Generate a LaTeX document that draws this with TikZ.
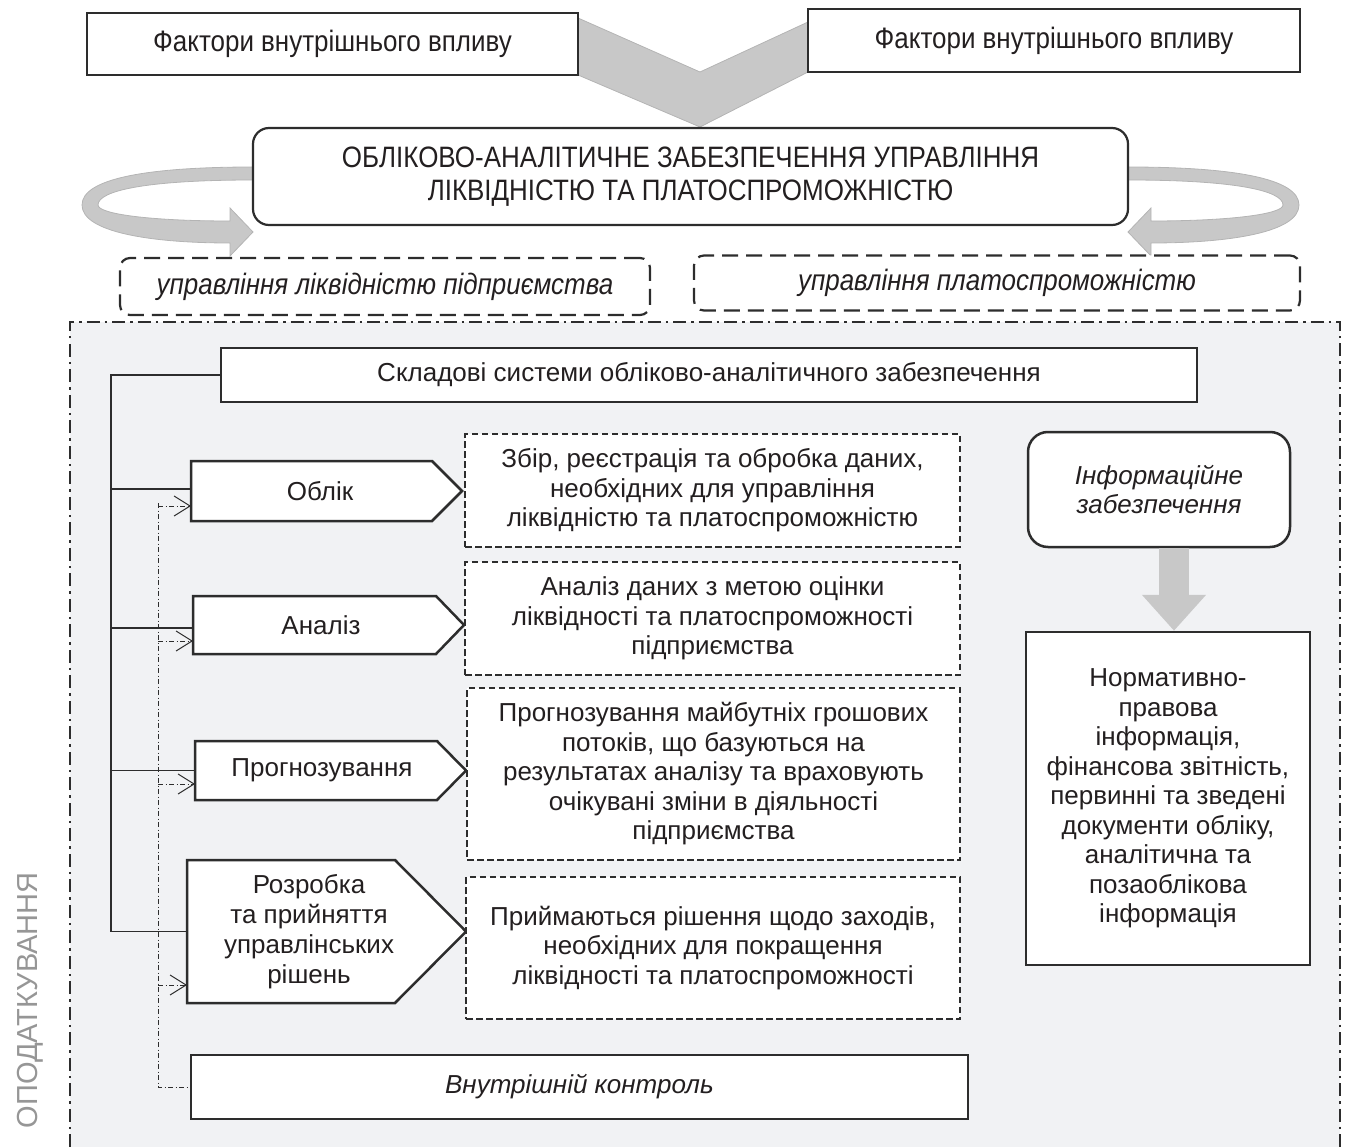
\documentclass[tikz,border=0pt]{standalone}
\usepackage{fontspec}
\setmainfont{Liberation Sans}
\newfontfamily\narrowfont[FakeStretch=0.88]{Liberation Sans}
\usetikzlibrary{arrows.meta}
\definecolor{linec}{HTML}{2D2D2D}
\definecolor{txtc}{HTML}{231F20}
\definecolor{regionfill}{HTML}{F1F2F4}
\definecolor{arrowgray}{HTML}{C8C8C8}
\definecolor{arrowedge}{HTML}{B4B4B4}
\definecolor{sidegray}{HTML}{969696}
\begin{document}
\begin{tikzpicture}[x=1pt,y=-1pt,
  every node/.style={text=txtc, font=\fontsize{26}{29.5}\selectfont, inner sep=0pt, align=center},
  topbox/.style={draw=linec, line width=2pt, fill=white, font=\narrowfont\fontsize{29.5}{33}\selectfont},
  titlebox/.style={draw=linec, line width=2.2pt, fill=white, rounded corners=16pt, font=\narrowfont\fontsize{29.5}{33}\selectfont},
  mgmtbox/.style={draw=linec, line width=2.2pt, fill=white, rounded corners=10pt, dash pattern=on 16pt off 8pt, font=\narrowfont\itshape\fontsize{29.5}{33}\selectfont},
  solidbox/.style={draw=linec, line width=2.5pt, fill=white},
  descbox/.style={draw=linec, line width=2.2pt, fill=white, dash pattern=on 6.5pt off 3.5pt},
  infobox/.style={draw=linec, line width=2.5pt, fill=white, rounded corners=20pt, font=\itshape\fontsize{26}{29}\selectfont},
  pent/.style={draw=linec, line width=2.5pt, fill=white, line join=miter},
  branch/.style={draw=linec, line width=1.1pt},
  ctl/.style={draw=linec, line width=1pt, dash pattern=on 5pt off 2.5pt on 1pt off 2.5pt},
  ctlarrow/.style={ctl, -{Straight Barb[length=16pt, width=20pt, line width=1pt]}},
  bigarrow/.style={fill=arrowgray, draw=arrowedge, line width=0.8pt, line join=miter}
]
\useasboundingbox (0,0) rectangle (1346,1147);
\clip (0,0) rectangle (1346,1147);

% big region
\fill[regionfill] (70,322) rectangle (1340,1147);
\draw[linec, line width=2.4pt, dash pattern=on 13pt off 5pt on 2.5pt off 5pt] (70,1147) -- (70,322) -- (1340,322) -- (1340,1147);

% side text
\node[rotate=90, anchor=east, text=sidegray, font=\fontsize{29}{34}\selectfont] (sidetext) at (30,872) {ОПОДАТКУВАННЯ};

% chevron arrow between the two top boxes
\draw[bigarrow] (578,18) -- (700,72) -- (808,22) -- (808,72) -- (700,127) -- (578,75) -- cycle;

% curved arrows
\draw[bigarrow] (253,167) .. controls (150,167) and (82,178) .. (82,205)
  .. controls (82,232) and (150,243) .. (230,243) -- (230,256) -- (253,232) -- (230,208) -- (230,221)
  .. controls (150,221) and (98,214) .. (98,205) .. controls (98,190) and (150,180) .. (253,180) -- cycle;
\begin{scope}[shift={(1381,0)}, xscale=-1]
\draw[bigarrow] (253,167) .. controls (150,167) and (82,178) .. (82,205)
  .. controls (82,232) and (150,243) .. (230,243) -- (230,256) -- (253,232) -- (230,208) -- (230,221)
  .. controls (150,221) and (98,214) .. (98,205) .. controls (98,190) and (150,180) .. (253,180) -- cycle;
\end{scope}

% top boxes
\node[topbox, minimum width=491pt, minimum height=62pt] (factA) at (332.5,44) {Фактори внутрішнього впливу};
\node[topbox, minimum width=492pt, minimum height=63pt] (factB) at (1054,40.5) {Фактори внутрішнього впливу};
\node[titlebox, minimum width=875pt, minimum height=97pt] (title) at (690.5,176.5)
  {ОБЛІКОВО-АНАЛІТИЧНЕ ЗАБЕЗПЕЧЕННЯ УПРАВЛІННЯ\\ЛІКВІДНІСТЮ ТА ПЛАТОСПРОМОЖНІСТЮ};
\node[mgmtbox, minimum width=530pt, minimum height=57pt] (liq) at (385,286.5) {управління ліквідністю підприємства};
\node[mgmtbox, minimum width=606pt, minimum height=55pt] (solv) at (997,283) {управління платоспроможністю};

% components box
\node[solidbox, minimum width=976pt, minimum height=54pt] (skladovi) at (709,375) {Складові системи обліково-аналітичного забезпечення};

% pentagon shapes
\draw[pent] (191,461) -- (432,461) -- (462,491) -- (432,521) -- (191,521) -- cycle;
\node (oblik) at (320,491) {Облік};
\draw[pent] (193,596) -- (436,596) -- (464,625) -- (436,654) -- (193,654) -- cycle;
\node (analiz) at (321,625) {Аналіз};
\draw[pent] (195,741) -- (437,741) -- (466,770.5) -- (437,800) -- (195,800) -- cycle;
\node (prog) at (322,770.5) {Прогнозування};
\draw[pent] (187,860) -- (395,860) -- (466,931.5) -- (395,1003) -- (187,1003) -- cycle;
\node[font=\fontsize{26}{30}\selectfont] (rozr) at (309,931.5) {Розробка\\та прийняття\\управлінських\\рішень};

\coordinate (oblikW) at (191,489);
\coordinate (analizW) at (193,628);
\coordinate (progW) at (195,770.5);
\coordinate (rozrW) at (187,931.5);
\coordinate (oblikA) at (191,506);
\coordinate (analizA) at (193,641);
\coordinate (progA) at (195,784);
\coordinate (rozrA) at (187,985);

% description boxes
\node[descbox, minimum width=495pt, minimum height=113pt] (d1) at (712.5,490.5)
  {Збір, реєстрація та обробка даних,\\необхідних для управління\\ліквідністю та платоспроможністю};
\node[descbox, minimum width=495pt, minimum height=113pt] (d2) at (712.5,618.5)
  {Аналіз даних з метою оцінки\\ліквідності та платоспроможності\\підприємства};
\node[descbox, minimum width=493pt, minimum height=172pt] (d3) at (713.5,774)
  {Прогнозування майбутніх грошових\\потоків, що базуються на\\результатах аналізу та враховують\\очікувані зміни в діяльності\\підприємства};
\node[descbox, minimum width=494pt, minimum height=142pt] (d4) at (713,948)
  {Приймаються рішення щодо заходів,\\необхідних для покращення\\ліквідності та платоспроможності};

% internal control
\node[solidbox, minimum width=777pt, minimum height=64pt, font=\itshape\fontsize{26}{29}\selectfont] (kontrol) at (579.5,1087) {Внутрішній контроль};

% info support
\node[infobox, minimum width=262pt, minimum height=115pt] (info) at (1159,489.5) {Інформаційне\\забезпечення};
\node[solidbox, minimum width=284pt, minimum height=333pt, font=\fontsize{26}{29.5}\selectfont] (norm) at (1168,798.5)
  {Нормативно-\\правова\\інформація,\\фінансова звітність,\\первинні та зведені\\документи обліку,\\аналітична та\\позаоблікова\\інформація};
\coordinate (arrowx) at (1174,0);
\draw[line width=30pt, draw=arrowgray, -{Triangle[length=36pt, width=62pt]}] (info.south -| arrowx) -- (norm.north -| arrowx);

% tree connectors
\coordinate (trunkTop) at (111,375);
\draw[branch] (skladovi.west) -- (trunkTop) -- (trunkTop |- rozrW) -- (rozrW);
\draw[branch] (trunkTop |- oblikW) -- (oblikW);
\draw[branch] (trunkTop |- analizW) -- (analizW);
\draw[branch] (trunkTop |- progW) -- (progW);

% control connectors
\coordinate (ctlTop) at (158,503);
\draw[ctl] (ctlTop) -- (ctlTop |- kontrol.west) -- (kontrol.west);
\draw[ctlarrow] (ctlTop |- oblikA) -- (oblikA);
\draw[ctlarrow] (ctlTop |- analizA) -- (analizA);
\draw[ctlarrow] (ctlTop |- progA) -- (progA);
\draw[ctlarrow] (ctlTop |- rozrA) -- (rozrA);
\end{tikzpicture}
\end{document}
